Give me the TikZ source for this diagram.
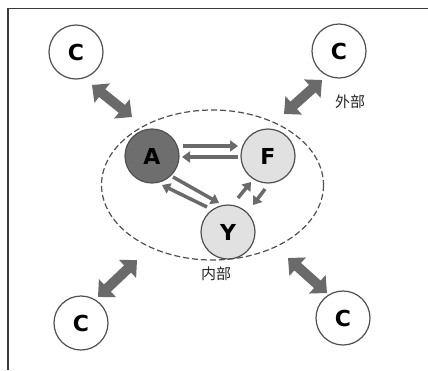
\documentclass[tikz,border=0pt]{standalone}
\usepackage{fontspec}
\setmainfont{DejaVu Sans}
\newfontfamily\cjk{Noto Sans CJK SC}
\usetikzlibrary{arrows.meta,calc}
\definecolor{dk}{HTML}{6E6E6E}
\definecolor{lt}{HTML}{E1E1E1}
\definecolor{edgec}{HTML}{505050}
\definecolor{arr}{HTML}{6A6A6A}
\definecolor{framec}{HTML}{3A3A3A}
\begin{document}
\begin{tikzpicture}[x=1pt,y=-1pt,
  cnode/.style={circle,draw=edgec,line width=1.2pt,minimum size=54pt,inner sep=0pt,font=\fontsize{22}{22}\selectfont\bfseries},
  inarr/.style={draw=arr,line width=3.5pt,-{Triangle[width=11pt,length=8pt]}},
  bigarr/.style={draw=arr,line width=10pt,{Triangle[width=24pt,length=13pt]}-{Triangle[width=24pt,length=13pt]}},
  lab/.style={font=\cjk\fontsize{15}{15}\selectfont,text=black!85}]
\useasboundingbox (0,0) rectangle (428,370);
\fill[white] (0,0) rectangle (428,370);
\draw[framec,line width=1.5pt] (8,370) -- (8,8.5) -- (428,8.5);
% dashed ellipse
\draw[edgec,line width=1.2pt,dash pattern=on 6pt off 3pt] (212.5,185) ellipse [x radius=111, y radius=75];
% inner nodes
\node[cnode,fill=dk] (A) at (152,156) {A};
\node[cnode,fill=lt] (F) at (268,156) {F};
\node[cnode,fill=lt] (Y) at (228,232) {Y};
% outer nodes
\node[cnode] (C1) at (76,52) {C};
\node[cnode] (C2) at (339,51) {C};
\node[cnode] (C3) at (81,323) {C};
\node[cnode] (C4) at (343,318) {C};
% inner arrows
\draw[inarr] ($(A)+(31,-10)$) -- ($(F)+(-30,-10)$);
\draw[inarr] ($(F)+(-30,1)$) -- ($(A)+(30,1)$);
\draw[inarr] ($(A)+(21,21)$) -- ($(Y)+(-9,-29)$);
\draw[inarr] ($(Y)+(-21,-25)$) -- ($(A)+(10,29)$);
\draw[inarr] ($(Y)+(10,-34)$) -- ($(F)+(-17,26)$);
\draw[inarr] ($(F)+(-3,33)$) -- ($(Y)+(25,-27)$);
% outer connector endpoints
\coordinate (e1) at (132,117);
\coordinate (e2) at (284,114);
\coordinate (e3) at (137,260);
\coordinate (e4) at (288,258);
\draw[bigarr] ($(C1)+(16,33)$) -- (e1);
\draw[bigarr] ($(C2)+(-17,29)$) -- (e2);
\draw[bigarr] ($(C3)+(17,-26)$) -- (e3);
\draw[bigarr] ($(C4)+(-16,-25)$) -- (e4);
% labels
\node[lab] (out) at (350,102) {外部};
\node[lab] (in) at (216,274) {内部};
\end{tikzpicture}
\end{document}
